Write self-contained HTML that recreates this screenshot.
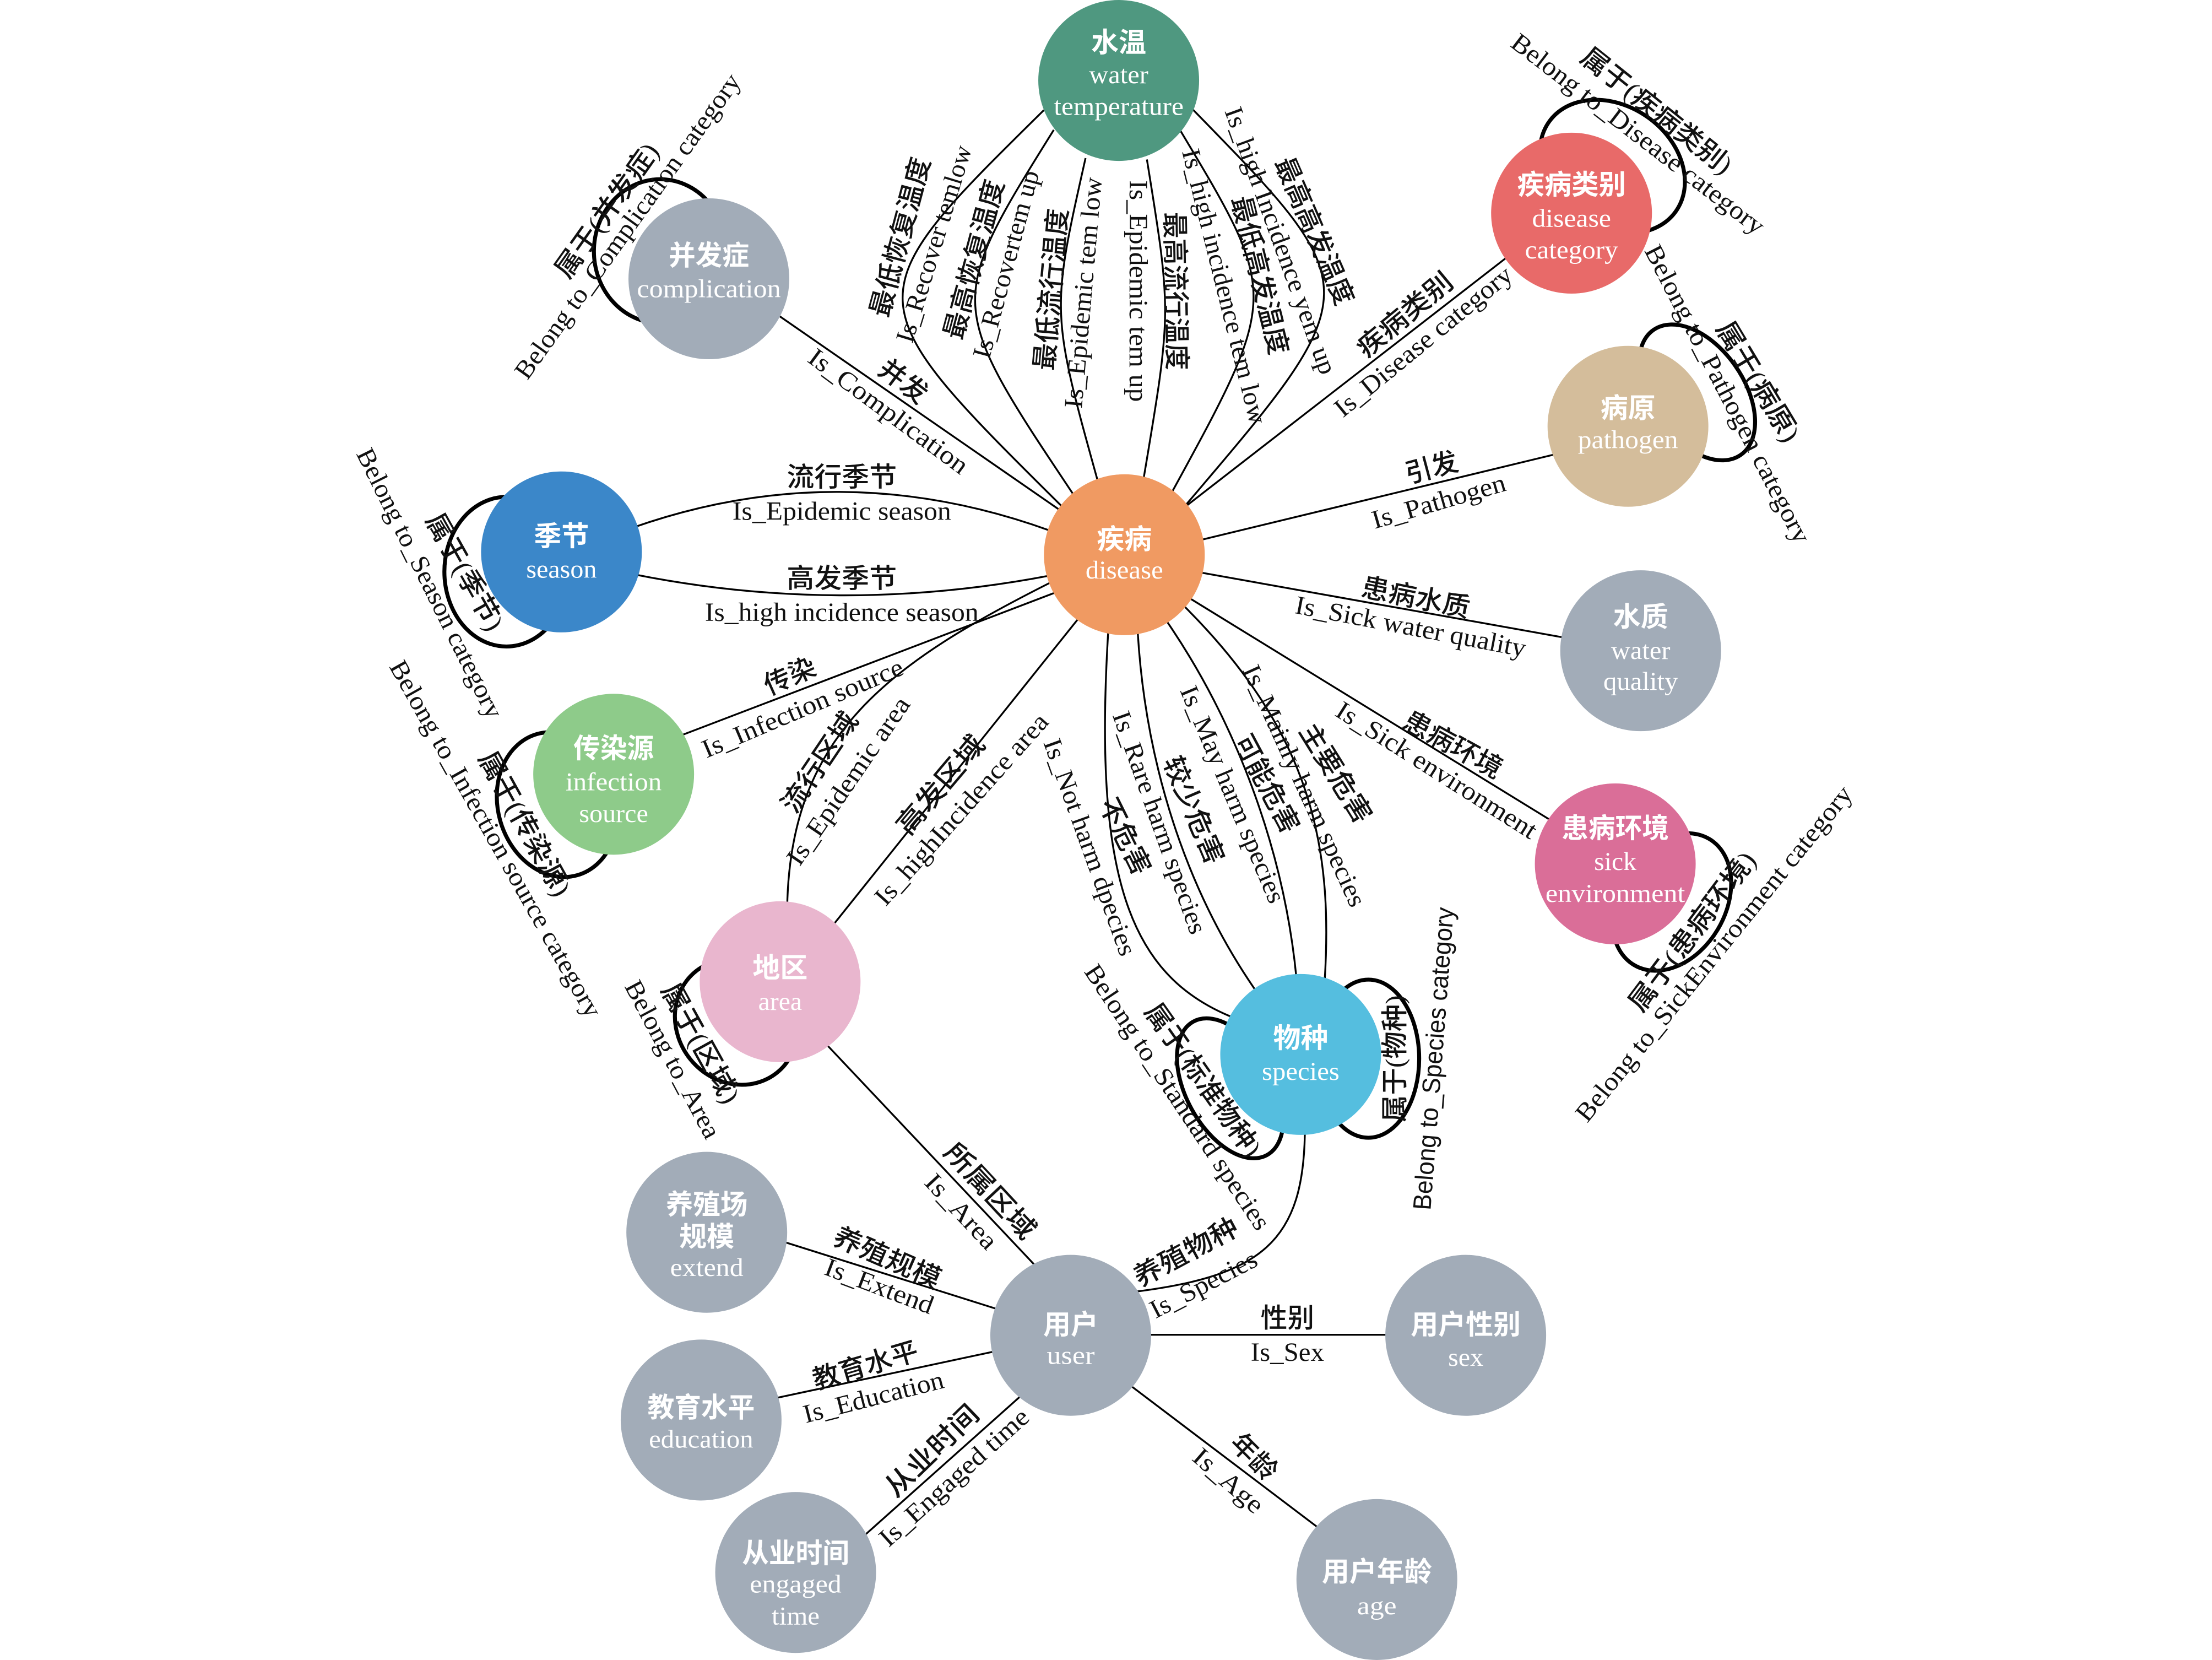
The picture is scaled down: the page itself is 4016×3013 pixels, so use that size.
<!DOCTYPE html>
<html>
<head>
<meta charset="utf-8">
<style>
html,body{margin:0;padding:0;background:#fff;}
svg{display:block;}
.e{stroke:#000;stroke-width:1.3;fill:none;}
.lp{stroke:#000;stroke-width:2.8;fill:none;}
.zh{font-family:"Liberation Serif","Noto Sans CJK SC",sans-serif;font-size:19px;font-weight:500;fill:#111;text-anchor:middle;}
.en{font-family:"Liberation Serif","Noto Serif CJK SC",serif;font-size:18.5px;fill:#111;text-anchor:middle;}
.ens{font-family:"Liberation Sans","Noto Sans CJK SC",sans-serif;font-size:18px;fill:#111;text-anchor:middle;}
.nz{font-family:"Liberation Sans","Noto Sans CJK SC",sans-serif;font-size:19.5px;font-weight:bold;fill:#fff;text-anchor:middle;}
.ne{font-family:"Liberation Serif",serif;font-size:18px;fill:#fff;text-anchor:middle;}
</style>
</head>
<body>
<svg width="4016" height="3013" viewBox="0 0 1568 1176" preserveAspectRatio="none" xmlns="http://www.w3.org/2000/svg">
<rect x="0" y="0" width="1568" height="1176" fill="#fff"/>

<!-- straight edges -->
<path class="e" d="M544.8,218.6 L758,366"/>
<path class="e" d="M835,363 L1075,177"/>
<path class="e" d="M845,384 L1110,320"/>
<path class="e" d="M845,404.5 L1115,452.8"/>
<path class="e" d="M842,423 L1108,586.5"/>
<path class="e" d="M478,522.8 L748,419.8"/>
<path class="e" d="M586,661 L767,435"/>
<path class="e" d="M585,739 L738,901"/>
<path class="e" d="M550,878 L712,929"/>
<path class="e" d="M545,991.5 L712,955.9"/>
<path class="e" d="M608,1092 L728,985"/>
<path class="e" d="M810,945.6 L990,945.6"/>
<path class="e" d="M796,977.5 L940,1086.5"/>

<!-- curved edges -->
<path class="e" d="M448,374 Q598,321 750,378"/>
<path class="e" d="M450,407 Q598,436.5 748,407"/>
<path class="e" d="M740,78 C604.2,211.6 604.2,211.6 754,360"/>
<path class="e" d="M747,92 C670.3,214.9 670.3,214.9 762,352"/>
<path class="e" d="M769.5,112 C744.9,221.1 744.9,221.1 778.5,342"/>
<path class="e" d="M813,113 C830.6,221.2 830.6,221.2 810.5,340"/>
<path class="e" d="M837,93 C906.9,209.6 906.9,209.6 830,350"/>
<path class="e" d="M845,77 C970.6,205.4 970.6,205.4 839.5,359"/>
<path class="e" d="M785.6,447 C775,620 800,690 872,720"/>
<path class="e" d="M806.5,448 C812,540 840,630 891,703"/>
<path class="e" d="M827,440 C875,510 910,600 919,693"/>
<path class="e" d="M840,430 C930,520 945,600 939,695"/>
<path class="e" d="M925,798 C925,880 895,905 797,916"/>
<path class="e" d="M558,643 C560,520 630,470 748,411"/>

<!-- self loops -->
<ellipse class="lp" cx="468" cy="178" rx="47" ry="51"/>
<ellipse class="lp" cx="359" cy="405" rx="44" ry="53"/>
<ellipse class="lp" cx="395" cy="570" rx="42" ry="52" transform="rotate(-16 395 570)"/>
<ellipse class="lp" cx="522" cy="724" rx="42" ry="46" transform="rotate(-38.5 522 724)"/>
<ellipse class="lp" cx="1143" cy="118" rx="55" ry="43" transform="rotate(35 1143 118)"/>
<ellipse class="lp" cx="1203" cy="278" rx="54" ry="33" transform="rotate(55 1203 278)"/>
<ellipse class="lp" cx="1185" cy="639" rx="52" ry="38" transform="rotate(121 1185 639)"/>
<ellipse class="lp" cx="872" cy="771" rx="54" ry="31" transform="rotate(61 872 771)"/>
<ellipse class="lp" cx="970" cy="750" rx="36" ry="56"/>

<!-- nodes -->
<circle cx="793" cy="57" r="57" fill="#4F9880"/>
<circle cx="797" cy="393" r="57" fill="#F09A62"/>
<circle cx="1114" cy="151" r="57" fill="#E86A69"/>
<circle cx="1154" cy="302" r="57" fill="#D4BD9B"/>
<circle cx="1163" cy="461" r="57" fill="#A2ACB8"/>
<circle cx="1145" cy="612" r="57" fill="#DA6E98"/>
<circle cx="922" cy="747" r="57" fill="#55BEDF"/>
<circle cx="502.5" cy="197.5" r="57" fill="#A2ACB8"/>
<circle cx="398" cy="391" r="57" fill="#3B87C9"/>
<circle cx="435" cy="548.5" r="57" fill="#8ECB8A"/>
<circle cx="553" cy="695.5" r="57" fill="#E9B6CE"/>
<circle cx="501" cy="873" r="57" fill="#A2ACB8"/>
<circle cx="759" cy="946" r="57" fill="#A2ACB8"/>
<circle cx="497" cy="1006" r="57" fill="#A2ACB8"/>
<circle cx="564" cy="1114" r="57" fill="#A2ACB8"/>
<circle cx="1039" cy="946" r="57" fill="#A2ACB8"/>
<circle cx="976" cy="1119" r="57" fill="#A2ACB8"/>

<!-- node text -->
<text class="nz" x="793" y="30" dy=".35em">水温</text>
<text class="ne" x="793" y="52.7" dy=".35em" textLength="42" lengthAdjust="spacingAndGlyphs">water</text>
<text class="ne" x="793" y="75" dy=".35em" textLength="92" lengthAdjust="spacingAndGlyphs">temperature</text>

<text class="nz" x="797" y="382" dy=".35em">疾病</text>
<text class="ne" x="797" y="403.5" dy=".35em" textLength="55" lengthAdjust="spacingAndGlyphs">disease</text>

<text class="nz" x="1114" y="130.7" dy=".35em" textLength="77" lengthAdjust="spacingAndGlyphs">疾病类别</text>
<text class="ne" x="1114" y="154.4" dy=".35em" textLength="56" lengthAdjust="spacingAndGlyphs">disease</text>
<text class="ne" x="1114" y="176.8" dy=".35em" textLength="66" lengthAdjust="spacingAndGlyphs">category</text>

<text class="nz" x="1154" y="289" dy=".35em">病原</text>
<text class="ne" x="1154" y="311.3" dy=".35em" textLength="71" lengthAdjust="spacingAndGlyphs">pathogen</text>

<text class="nz" x="1163" y="437" dy=".35em">水质</text>
<text class="ne" x="1163" y="460.5" dy=".35em" textLength="42" lengthAdjust="spacingAndGlyphs">water</text>
<text class="ne" x="1163" y="482.3" dy=".35em" textLength="53" lengthAdjust="spacingAndGlyphs">quality</text>

<text class="nz" x="1145" y="586.6" dy=".35em" textLength="76" lengthAdjust="spacingAndGlyphs">患病环境</text>
<text class="ne" x="1145" y="610" dy=".35em" textLength="30" lengthAdjust="spacingAndGlyphs">sick</text>
<text class="ne" x="1145" y="632.7" dy=".35em" textLength="99" lengthAdjust="spacingAndGlyphs">environment</text>

<text class="nz" x="922" y="735.3" dy=".35em">物种</text>
<text class="ne" x="922" y="758.8" dy=".35em" textLength="55" lengthAdjust="spacingAndGlyphs">species</text>

<text class="nz" x="502.5" y="181" dy=".35em" textLength="57" lengthAdjust="spacingAndGlyphs">并发症</text>
<text class="ne" x="502.5" y="204.3" dy=".35em" textLength="102" lengthAdjust="spacingAndGlyphs">complication</text>

<text class="nz" x="398" y="379.7" dy=".35em">季节</text>
<text class="ne" x="398" y="403" dy=".35em" textLength="50" lengthAdjust="spacingAndGlyphs">season</text>

<text class="nz" x="435" y="530" dy=".35em" textLength="57" lengthAdjust="spacingAndGlyphs">传染源</text>
<text class="ne" x="435" y="553.6" dy=".35em" textLength="68" lengthAdjust="spacingAndGlyphs">infection</text>
<text class="ne" x="435" y="576" dy=".35em" textLength="49" lengthAdjust="spacingAndGlyphs">source</text>

<text class="nz" x="553" y="685.6" dy=".35em">地区</text>
<text class="ne" x="553" y="709.2" dy=".35em" textLength="31" lengthAdjust="spacingAndGlyphs">area</text>

<text class="nz" x="501" y="853.3" dy=".35em" textLength="58" lengthAdjust="spacingAndGlyphs">养殖场</text>
<text class="nz" x="501" y="876" dy=".35em">规模</text>
<text class="ne" x="501" y="897.6" dy=".35em" textLength="52" lengthAdjust="spacingAndGlyphs">extend</text>

<text class="nz" x="759" y="938.4" dy=".35em">用户</text>
<text class="ne" x="759" y="960" dy=".35em" textLength="34" lengthAdjust="spacingAndGlyphs">user</text>

<text class="nz" x="497" y="997" dy=".35em" textLength="76" lengthAdjust="spacingAndGlyphs">教育水平</text>
<text class="ne" x="497" y="1019.2" dy=".35em" textLength="74" lengthAdjust="spacingAndGlyphs">education</text>

<text class="nz" x="564" y="1100.3" dy=".35em" textLength="76" lengthAdjust="spacingAndGlyphs">从业时间</text>
<text class="ne" x="564" y="1121.8" dy=".35em" textLength="65" lengthAdjust="spacingAndGlyphs">engaged</text>
<text class="ne" x="564" y="1144.6" dy=".35em" textLength="34" lengthAdjust="spacingAndGlyphs">time</text>

<text class="nz" x="1039" y="938.4" dy=".35em" textLength="78" lengthAdjust="spacingAndGlyphs">用户性别</text>
<text class="ne" x="1039" y="961.2" dy=".35em" textLength="25" lengthAdjust="spacingAndGlyphs">sex</text>

<text class="nz" x="976" y="1113.4" dy=".35em" textLength="78" lengthAdjust="spacingAndGlyphs">用户年龄</text>
<text class="ne" x="976" y="1137.4" dy=".35em" textLength="28" lengthAdjust="spacingAndGlyphs">age</text>

<!-- water temperature labels -->
<text class="zh" x="638" y="168" dy=".35em" transform="rotate(-75 638 168)" textLength="116" lengthAdjust="spacingAndGlyphs">最低恢复温度</text>
<text class="en" x="661.6" y="172.6" dy=".35em" transform="rotate(-73 661.6 172.6)" textLength="145" lengthAdjust="spacingAndGlyphs">Is_Recover temlow</text>
<text class="zh" x="690.3" y="183.8" dy=".35em" transform="rotate(-75 690.3 183.8)" textLength="116" lengthAdjust="spacingAndGlyphs">最高恢复温度</text>
<text class="en" x="712.7" y="187.1" dy=".35em" transform="rotate(-75 712.7 187.1)" textLength="137" lengthAdjust="spacingAndGlyphs">Is_Recovertem up</text>
<text class="zh" x="745" y="205" dy=".35em" transform="rotate(-85 745 205)" textLength="115" lengthAdjust="spacingAndGlyphs">最低流行温度</text>
<text class="en" x="767.5" y="207.3" dy=".35em" transform="rotate(-85 767.5 207.3)" textLength="164" lengthAdjust="spacingAndGlyphs">Is_Epidemic tem low</text>
<text class="en" x="807.3" y="206.2" dy=".35em" transform="rotate(90 807.3 206.2)" textLength="157" lengthAdjust="spacingAndGlyphs">Is_Epidemic tem up</text>
<text class="zh" x="833.5" y="206.2" dy=".35em" transform="rotate(89 833.5 206.2)" textLength="112" lengthAdjust="spacingAndGlyphs">最高流行温度</text>
<text class="en" x="868.3" y="202.8" dy=".35em" transform="rotate(76 868.3 202.8)" textLength="200" lengthAdjust="spacingAndGlyphs">Is_high incidence tem low</text>
<text class="zh" x="893.2" y="195" dy=".35em" transform="rotate(76 893.2 195)" textLength="115" lengthAdjust="spacingAndGlyphs">最低高发温度</text>
<text class="en" x="908.2" y="170.3" dy=".35em" transform="rotate(70 908.2 170.3)" textLength="200" lengthAdjust="spacingAndGlyphs">Is_high Incidence yem up</text>
<text class="zh" x="931.8" y="163.6" dy=".35em" transform="rotate(66.5 931.8 163.6)" textLength="112" lengthAdjust="spacingAndGlyphs">最高高发温度</text>

<!-- complication -->
<text class="zh" x="640.4" y="270" dy=".35em" transform="rotate(37 640.4 270)">并发</text>
<text class="en" x="630" y="291" dy=".35em" transform="rotate(36.5 630 291)" textLength="136" lengthAdjust="spacingAndGlyphs">Is_Complication</text>
<text class="zh" x="430" y="149" dy=".35em" transform="rotate(-54.6 430 149)" textLength="112" lengthAdjust="spacingAndGlyphs">属于(并发症)</text>
<text class="en" x="444.5" y="160" dy=".35em" transform="rotate(-54.4 444.5 160)" textLength="261" lengthAdjust="spacingAndGlyphs">Belong to_Complication category</text>

<!-- season -->
<text class="zh" x="596.7" y="337.8" dy=".35em" textLength="78" lengthAdjust="spacingAndGlyphs">流行季节</text>
<text class="en" x="596.7" y="361.8" dy=".35em" textLength="155" lengthAdjust="spacingAndGlyphs">Is_Epidemic season</text>
<text class="zh" x="596.7" y="409.6" dy=".35em" textLength="78" lengthAdjust="spacingAndGlyphs">高发季节</text>
<text class="en" x="596.7" y="433.5" dy=".35em" textLength="194" lengthAdjust="spacingAndGlyphs">Is_high incidence season</text>
<text class="zh" x="329.5" y="405" dy=".35em" transform="rotate(60.7 329.5 405)" textLength="92" lengthAdjust="spacingAndGlyphs">属于(季节)</text>
<text class="en" x="305" y="413" dy=".35em" transform="rotate(63.6 305 413)" textLength="211" lengthAdjust="spacingAndGlyphs">Belong to_Season category</text>

<!-- infection -->
<text class="zh" x="559.8" y="478.9" dy=".35em" transform="rotate(-24 559.8 478.9)">传染</text>
<text class="en" x="568.7" y="501.3" dy=".35em" transform="rotate(-23 568.7 501.3)" textLength="153" lengthAdjust="spacingAndGlyphs">Is_Infection source</text>
<text class="zh" x="372" y="583.5" dy=".35em" transform="rotate(61 372 583.5)" textLength="114" lengthAdjust="spacingAndGlyphs">属于(传染源)</text>
<text class="en" x="351.7" y="594" dy=".35em" transform="rotate(60.6 351.7 594)" textLength="287" lengthAdjust="spacingAndGlyphs">Belong to_Infection source category</text>

<!-- area -->
<text class="zh" x="580.9" y="540" dy=".35em" transform="rotate(-56 580.9 540)" textLength="81" lengthAdjust="spacingAndGlyphs">流行区域</text>
<text class="en" x="601" y="553" dy=".35em" transform="rotate(-55.6 601 553)" textLength="140" lengthAdjust="spacingAndGlyphs">Is_Epidemic area</text>
<text class="zh" x="666.6" y="556" dy=".35em" transform="rotate(-49.7 666.6 556)" textLength="85" lengthAdjust="spacingAndGlyphs">高发区域</text>
<text class="en" x="681.2" y="573" dy=".35em" transform="rotate(-48.3 681.2 573)" textLength="175" lengthAdjust="spacingAndGlyphs">Is_highIncidence area</text>
<text class="zh" x="496.7" y="739" dy=".35em" transform="rotate(61 496.7 739)" textLength="94" lengthAdjust="spacingAndGlyphs">属于(区域)</text>
<text class="en" x="477.2" y="750.3" dy=".35em" transform="rotate(62 477.2 750.3)" textLength="124" lengthAdjust="spacingAndGlyphs">Belong to_Area</text>

<!-- disease category -->
<text class="zh" x="995.7" y="222.9" dy=".35em" transform="rotate(-39.7 995.7 222.9)" textLength="82" lengthAdjust="spacingAndGlyphs">疾病类别</text>
<text class="en" x="1008.6" y="241.5" dy=".35em" transform="rotate(-39.3 1008.6 241.5)" textLength="157" lengthAdjust="spacingAndGlyphs">Is_Disease category</text>
<text class="zh" x="1174.4" y="78.4" dy=".35em" transform="rotate(38.6 1174.4 78.4)" textLength="131" lengthAdjust="spacingAndGlyphs">属于(疾病类别)</text>
<text class="en" x="1161.4" y="94.6" dy=".35em" transform="rotate(37.5 1161.4 94.6)" textLength="221" lengthAdjust="spacingAndGlyphs">Belong to_Disease category</text>

<!-- pathogen -->
<text class="zh" x="1014.8" y="331.2" dy=".35em" transform="rotate(-15 1014.8 331.2)">引发</text>
<text class="en" x="1019.7" y="354.8" dy=".35em" transform="rotate(-16.2 1019.7 354.8)" textLength="98" lengthAdjust="spacingAndGlyphs">Is_Pathogen</text>
<text class="zh" x="1246.3" y="270.2" dy=".35em" transform="rotate(59 1246.3 270.2)" textLength="96" lengthAdjust="spacingAndGlyphs">属于(病原)</text>
<text class="en" x="1225" y="278.9" dy=".35em" transform="rotate(62.7 1225 278.9)" textLength="235" lengthAdjust="spacingAndGlyphs">Belong to_Pathogen category</text>

<!-- water quality -->
<text class="zh" x="1003.6" y="423.2" dy=".35em" transform="rotate(11.5 1003.6 423.2)" textLength="78" lengthAdjust="spacingAndGlyphs">患病水质</text>
<text class="en" x="1000" y="443.5" dy=".35em" transform="rotate(10.8 1000 443.5)" textLength="166" lengthAdjust="spacingAndGlyphs">Is_Sick water quality</text>

<!-- sick environment -->
<text class="zh" x="1030" y="527.5" dy=".35em" transform="rotate(29 1030 527.5)" textLength="77" lengthAdjust="spacingAndGlyphs">患病环境</text>
<text class="en" x="1018.6" y="545.3" dy=".35em" transform="rotate(32.4 1018.6 545.3)" textLength="165" lengthAdjust="spacingAndGlyphs">Is_Sick environment</text>
<text class="zh" x="1199.4" y="659.8" dy=".35em" transform="rotate(-53 1199.4 659.8)" textLength="136" lengthAdjust="spacingAndGlyphs">属于(患病环境)</text>
<text class="en" x="1214.5" y="675.3" dy=".35em" transform="rotate(-51 1214.5 675.3)" textLength="300" lengthAdjust="spacingAndGlyphs">Belong to_SickEnvironment category</text>

<!-- species -->
<text class="zh" x="988.5" y="750" dy=".35em" transform="rotate(-90 988.5 750)" textLength="90" lengthAdjust="spacingAndGlyphs">属于(物种)</text>
<text class="ens" x="1016" y="750" dy=".35em" transform="rotate(-85.6 1016 750)" textLength="215" lengthAdjust="spacingAndGlyphs">Belong to_Species category</text>
<text class="en" x="773" y="600" dy=".35em" transform="rotate(70.2 773 600)" textLength="162" lengthAdjust="spacingAndGlyphs">Is_Not harm dpecies</text>
<text class="zh" x="797.6" y="592.5" dy=".35em" transform="rotate(63.6 797.6 592.5)" textLength="58" lengthAdjust="spacingAndGlyphs">不危害</text>
<text class="en" x="822.4" y="582.6" dy=".35em" transform="rotate(70.4 822.4 582.6)" textLength="166" lengthAdjust="spacingAndGlyphs">Is_Rare harm species</text>
<text class="zh" x="846.3" y="573.9" dy=".35em" transform="rotate(66.9 846.3 573.9)" textLength="81" lengthAdjust="spacingAndGlyphs">较少危害</text>
<text class="en" x="874.2" y="562.6" dy=".35em" transform="rotate(67.2 874.2 562.6)" textLength="165" lengthAdjust="spacingAndGlyphs">Is_May harm species</text>
<text class="zh" x="898.1" y="555.2" dy=".35em" transform="rotate(61.9 898.1 555.2)" textLength="76" lengthAdjust="spacingAndGlyphs">可能危害</text>
<text class="en" x="925" y="556.5" dy=".35em" transform="rotate(65.5 925 556.5)" textLength="186" lengthAdjust="spacingAndGlyphs">Is_Mainly harm species</text>
<text class="zh" x="946.9" y="547.7" dy=".35em" transform="rotate(58.1 946.9 547.7)" textLength="79" lengthAdjust="spacingAndGlyphs">主要危害</text>
<text class="zh" x="852.9" y="765" dy=".35em" transform="rotate(54.8 852.9 765)" textLength="128" lengthAdjust="spacingAndGlyphs">属于(标准物种)</text>
<text class="en" x="835" y="777" dy=".35em" transform="rotate(56.3 835 777)" textLength="222" lengthAdjust="spacingAndGlyphs">Belong to_Standard species</text>
<text class="zh" x="840.6" y="887" dy=".35em" transform="rotate(-28.2 840.6 887)" textLength="81" lengthAdjust="spacingAndGlyphs">养殖物种</text>
<text class="en" x="852.9" y="909.5" dy=".35em" transform="rotate(-27.4 852.9 909.5)" textLength="83" lengthAdjust="spacingAndGlyphs">Is_Species</text>

<!-- user cluster -->
<text class="zh" x="701.9" y="843.6" dy=".35em" transform="rotate(47 701.9 843.6)" textLength="85" lengthAdjust="spacingAndGlyphs">所属区域</text>
<text class="en" x="681.7" y="858" dy=".35em" transform="rotate(46.9 681.7 858)" textLength="66" lengthAdjust="spacingAndGlyphs">Is_Area</text>
<text class="zh" x="629" y="891" dy=".35em" transform="rotate(23.6 629 891)" textLength="81" lengthAdjust="spacingAndGlyphs">养殖规模</text>
<text class="en" x="623.4" y="910.8" dy=".35em" transform="rotate(20.7 623.4 910.8)" textLength="81" lengthAdjust="spacingAndGlyphs">Is_Extend</text>
<text class="zh" x="613.4" y="967.2" dy=".35em" transform="rotate(-16.3 613.4 967.2)" textLength="77" lengthAdjust="spacingAndGlyphs">教育水平</text>
<text class="en" x="619" y="989.3" dy=".35em" transform="rotate(-14.3 619 989.3)" textLength="102" lengthAdjust="spacingAndGlyphs">Is_Education</text>
<text class="zh" x="660.5" y="1027.7" dy=".35em" transform="rotate(-44 660.5 1027.7)" textLength="84" lengthAdjust="spacingAndGlyphs">从业时间</text>
<text class="en" x="676" y="1046.3" dy=".35em" transform="rotate(-42.1 676 1046.3)" textLength="136" lengthAdjust="spacingAndGlyphs">Is_Engaged time</text>
<text class="zh" x="912.6" y="933.6" dy=".35em">性别</text>
<text class="en" x="912.6" y="957.6" dy=".35em" textLength="52" lengthAdjust="spacingAndGlyphs">Is_Sex</text>
<text class="zh" x="889" y="1032" dy=".35em" transform="rotate(45 889 1032)">年龄</text>
<text class="en" x="871" y="1048.7" dy=".35em" transform="rotate(41 871 1048.7)" textLength="60" lengthAdjust="spacingAndGlyphs">Is_Age</text>
</svg>
</body>
</html>
